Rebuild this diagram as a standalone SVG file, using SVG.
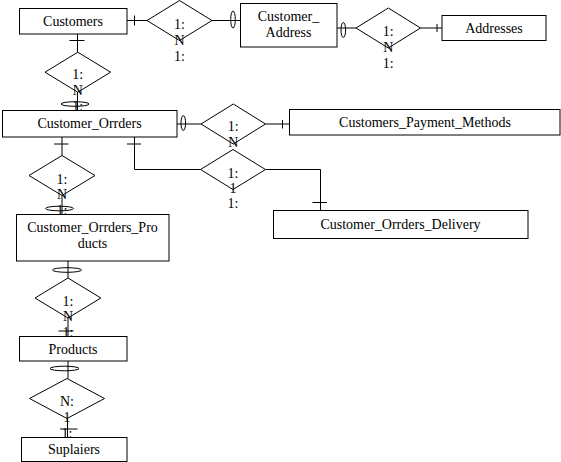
<svg xmlns="http://www.w3.org/2000/svg" width="561" height="462" viewBox="0 0 561 462" font-family="'Liberation Serif', 'DejaVu Serif', serif" font-size="14">
<style>
.ln{stroke:#000;stroke-width:1;fill:none}
.el{stroke:#000;stroke-width:1;fill:none}
.ent{fill:#fff;stroke:#000;stroke-width:1}
.rel{fill:#fff;stroke:#000;stroke-width:1}
text{font-family:'Liberation Serif','DejaVu Serif',serif;font-size:14px;fill:#000;text-anchor:middle}
</style>
<rect width="561" height="462" fill="#fff"/>
<g id="connectors">
  <path class="ln" d="M127,20.5 H147 M134.5,15.5 V25.5"/>
  <path class="ln" d="M212,20.5 H240"/>
  <ellipse class="el" cx="233" cy="19.5" rx="2.3" ry="8.5"/>
  <path class="ln" d="M337,28 H356"/>
  <ellipse class="el" cx="343.3" cy="30" rx="2.3" ry="7.5"/>
  <path class="ln" d="M420.5,28 H442 M437,24 V32"/>
  <path class="ln" d="M77.5,34 V52 M69.5,40.5 H84.5"/>
  <path class="ln" d="M77.5,92 V110"/>
  <ellipse class="el" cx="75" cy="104" rx="14" ry="2.3"/>
  <path class="ln" d="M177,124 H201"/>
  <ellipse class="el" cx="183.3" cy="123" rx="2.3" ry="7.5"/>
  <path class="ln" d="M265.5,124 H289 M282.5,120 V128.5"/>
  <path class="ln" d="M134.5,137 V169.5 H200.5 M127,144 H141"/>
  <path class="ln" d="M265.5,169.5 H320.5 V210 M312.5,202.5 H327"/>
  <path class="ln" d="M62,137 V155.5 M54,144 H68.5"/>
  <path class="ln" d="M62,195.5 V214"/>
  <ellipse class="el" cx="59.5" cy="208.5" rx="14" ry="2.3"/>
  <path class="ln" d="M68,261 V278"/>
  <ellipse class="el" cx="67" cy="270" rx="14.5" ry="2.3"/>
  <path class="ln" d="M68,318 V336.5 M58.5,331 H73.5"/>
  <path class="ln" d="M68,361 V378.5"/>
  <ellipse class="el" cx="64.5" cy="368.5" rx="14.5" ry="2.3"/>
  <path class="ln" d="M67.5,418.5 V437 M60,429 H77.5"/>
</g>
<g id="r1"><polygon class="rel" points="147,20.5 179.5,0.5 212,20.5 179.5,40.5"/>
  <text x="179.5" y="28.5">1:</text><text x="179.5" y="44.5">N</text><text x="179.5" y="60.5">1:</text></g>
<g id="r2"><polygon class="rel" points="356,28 388.3,8 420.5,28 388.3,48"/>
  <text x="388.3" y="35.5">1:</text><text x="388.3" y="51.5">N</text><text x="388.3" y="67.5">1:</text></g>
<g id="r3"><polygon class="rel" points="45,72.2 77.8,52.2 110.6,72.2 77.8,92.2"/>
  <text x="77.8" y="79">1:</text><text x="77.8" y="95">N</text><text x="77.8" y="111">1:</text></g>
<g id="r4"><polygon class="rel" points="201,124 233.3,104 265.5,124 233.3,144"/>
  <text x="233.3" y="131">1:</text><text x="233.3" y="147">N</text></g>
<g id="r5"><polygon class="rel" points="200.5,169.5 233,149.5 265.5,169.5 233,189.5"/>
  <text x="233" y="177.5">1:</text><text x="233" y="192.5">1</text><text x="233" y="207.5">1:</text></g>
<g id="r6"><polygon class="rel" points="29,175.5 62,155.5 95,175.5 62,195.5"/>
  <text x="62" y="183.5">1:</text><text x="62" y="199">N</text><text x="62" y="215">1:</text></g>
<g id="r7"><polygon class="rel" points="35,298 68,278 100.8,298 68,318"/>
  <text x="68" y="305.5">1:</text><text x="68" y="321">N</text><text x="68" y="337">1:</text></g>
<g id="r8"><polygon class="rel" points="29.5,398.5 67,378.5 104.5,398.5 67,418.5"/>
  <text x="67" y="406">N:</text><text x="67" y="421.5">1</text><text x="67" y="437.5">1:</text></g>
<g id="customers"><rect class="ent" x="19.5" y="8.5" width="107.5" height="25.5"/><text x="73" y="26">Customers</text></g>
<g id="customer_address"><rect class="ent" x="240.5" y="3.5" width="96.5" height="43.5"/><text x="288.5" y="20.5">Customer_</text><text x="288.5" y="36.5">Address</text></g>
<g id="addresses"><rect class="ent" x="442" y="15.5" width="104" height="25"/><text x="494" y="32.5">Addresses</text></g>
<g id="customer_orrders"><rect class="ent" x="2.5" y="110.5" width="174.5" height="26.5"/><text x="89.5" y="127.5">Customer_Orrders</text></g>
<g id="payment_methods"><rect class="ent" x="289.5" y="109.5" width="270.5" height="25.5"/><text x="425" y="127">Customers_Payment_Methods</text></g>
<g id="delivery"><rect class="ent" x="273.5" y="210.5" width="254.5" height="28"/><text x="400.5" y="228.5">Customer_Orrders_Delivery</text></g>
<g id="orrders_products"><rect class="ent" x="16.5" y="214.5" width="152.5" height="46.5"/><text x="92.5" y="232">Customer_Orrders_Pro</text><text x="92.5" y="247.5">ducts</text></g>
<g id="products"><rect class="ent" x="19.5" y="336.5" width="107.5" height="24.5"/><text x="73" y="354">Products</text></g>
<g id="suplaiers"><rect class="ent" x="21.5" y="437.5" width="105.5" height="24"/><text x="74" y="453.5">Suplaiers</text></g>
</svg>
